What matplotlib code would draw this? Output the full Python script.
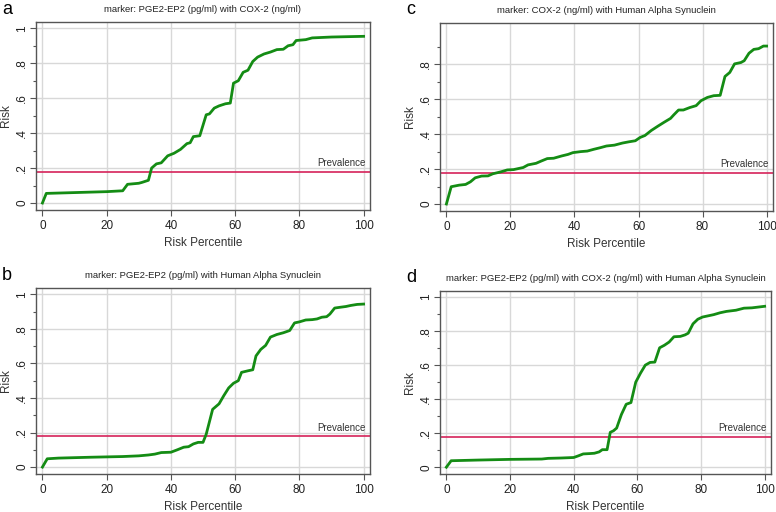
import matplotlib
matplotlib.use("Agg")
import matplotlib.pyplot as plt
import numpy as np

plt.rcParams['font.family'] = ['Liberation Sans', 'DejaVu Sans']

# données (percentile, risque)
a_x = [0, 1.2, 20, 25, 26.5, 30, 31, 33, 34, 35.5, 37, 39, 41, 43, 45, 46, 47, 49, 51, 52, 53.5, 55,
       57, 58.5, 59.5, 61, 62.5, 64, 65.5, 67, 69, 71, 73, 75, 76.5, 78, 79, 82, 84, 90, 100]
a_y = [0, 0.055, 0.065, 0.07, 0.107, 0.113, 0.118, 0.13, 0.2, 0.224, 0.23, 0.27, 0.285, 0.307, 0.34,
       0.345, 0.38, 0.385, 0.505, 0.51, 0.543, 0.556, 0.568, 0.572, 0.686, 0.70, 0.748, 0.76, 0.81,
       0.835, 0.853, 0.864, 0.878, 0.88, 0.90, 0.906, 0.93, 0.935, 0.945, 0.95, 0.954]

b_x = [0, 1.5, 5, 15, 25, 30, 33, 35, 37, 40, 42, 44, 45.5, 47, 48.5, 50, 51, 53, 55, 56.5, 58, 59.5,
       61, 62, 64, 65.5, 66.5, 68, 69.5, 71, 73, 75, 77, 78.5, 80, 82, 84, 85.5, 87, 88.5, 89.5, 91,
       92.5, 94.5, 96, 98, 100]
b_y = [0, 0.048, 0.052, 0.057, 0.061, 0.065, 0.07, 0.075, 0.084, 0.086, 0.1, 0.115, 0.118, 0.134,
       0.143, 0.143, 0.19, 0.334, 0.366, 0.414, 0.458, 0.485, 0.5, 0.548, 0.557, 0.563, 0.643, 0.681,
       0.704, 0.752, 0.767, 0.777, 0.79, 0.834, 0.84, 0.851, 0.853, 0.857, 0.867, 0.87, 0.885, 0.92,
       0.924, 0.929, 0.935, 0.941, 0.943]

c_x = [0, 1.5, 4, 6, 7.5, 9, 11, 13, 14.5, 17, 19, 21, 24, 25.5, 28, 29.5, 31.5, 33.5, 36, 38, 39.5,
       42, 44, 46, 48, 50, 52.5, 55, 57, 59, 60.5, 62, 64, 66, 68, 70, 71, 72.5, 74, 76, 78, 79.5,
       81.5, 83.5, 85.5, 87, 88.5, 90, 92, 93, 94.5, 96, 97.5, 99, 100]
c_y = [0, 0.099, 0.108, 0.112, 0.127, 0.15, 0.16, 0.161, 0.173, 0.184, 0.195, 0.197, 0.209, 0.224,
       0.233, 0.245, 0.26, 0.262, 0.275, 0.284, 0.294, 0.3, 0.303, 0.313, 0.322, 0.332, 0.337, 0.349,
       0.356, 0.362, 0.381, 0.392, 0.421, 0.445, 0.468, 0.49, 0.51, 0.538, 0.538, 0.552, 0.563, 0.591,
       0.61, 0.62, 0.622, 0.73, 0.753, 0.802, 0.81, 0.82, 0.863, 0.885, 0.889, 0.904, 0.904]

d_x = [0, 1.5, 10, 20, 30, 32, 36, 40, 41.5, 43, 45, 46.5, 48, 49, 50.5, 51.5, 52.5, 53.5, 55, 56.5,
       58, 59.5, 61, 62.5, 64, 65.5, 67, 68.5, 70, 71.5, 73.5, 75, 76, 77.5, 79, 80.5, 82, 84, 86, 88,
       91, 93.5, 96, 100]
d_y = [0, 0.038, 0.042, 0.046, 0.048, 0.052, 0.054, 0.057, 0.067, 0.078, 0.08, 0.082, 0.09, 0.103,
       0.103, 0.205, 0.214, 0.23, 0.31, 0.37, 0.38, 0.5, 0.553, 0.6, 0.616, 0.618, 0.702, 0.717, 0.736,
       0.767, 0.769, 0.778, 0.788, 0.843, 0.87, 0.883, 0.889, 0.897, 0.908, 0.916, 0.923, 0.935,
       0.937, 0.946]

prevalence = 0.18

titres = {
    "a": "marker: PGE2-EP2 (pg/ml) with COX-2 (ng/ml)",
    "b": "marker: PGE2-EP2 (pg/ml) with Human Alpha Synuclein",
    "c": "marker: COX-2 (ng/ml) with Human Alpha Synuclein",
    "d": "marker: PGE2-EP2 (pg/ml) with COX-2 (ng/ml) with Human Alpha Synuclein",
}

W, H = 776, 512
fig = plt.figure(figsize=(W / 100, H / 100), dpi=100)

# position des axes en pixels (gauche, haut, droite, bas)
boites = {
    "a": (36, 22, 370, 210),
    "c": (440, 23, 773, 211),
    "b": (36, 288, 370, 474),
    "d": (440, 291, 771, 474),
}
donnees = {"a": (a_x, a_y), "b": (b_x, b_y), "c": (c_x, c_y), "d": (d_x, d_y)}

gris = "#555555"
for lettre, (g, h, d, b) in boites.items():
    ax = fig.add_axes([g / W, 1 - b / H, (d - g) / W, (b - h) / H])
    x, y = donnees[lettre]
    ax.set_xlim(-2, 102)
    ax.set_ylim(-0.04, 1.036)
    ax.grid(True, color="#d8d8d8", linewidth=1)
    ax.set_axisbelow(True)
    ax.axhline(prevalence, color="#d6235a", linewidth=1.2, zorder=2)
    ax.plot(x, y, color="#148c14", linewidth=2, zorder=3)
    ax.text(100.5, prevalence + 0.02, "Prevalence", ha="right", va="bottom", fontsize=7, color="#333333")

    ax.set_xticks([0, 20, 40, 60, 80, 100])
    if lettre == "c":
        yt = [0, 0.2, 0.4, 0.6, 0.8]
    else:
        yt = [0, 0.2, 0.4, 0.6, 0.8, 1]
    ax.set_yticks(yt)
    ax.set_yticklabels(["0" if v == 0 else ("1" if v == 1 else ("%.1f" % v)[1:]) for v in yt],
                       rotation=90, va="center")
    ax.set_yticks(np.arange(0.1, 1.0, 0.2), minor=True)
    ax.tick_params(axis="both", which="major", labelsize=8.5, color=gris, length=4, width=0.8,
                   labelcolor="#222222", pad=3)
    ax.tick_params(axis="y", which="major", pad=1.5)
    ax.tick_params(axis="y", which="minor", color=gris, length=2, width=0.8)
    for s in ax.spines.values():
        s.set_color(gris)
        s.set_linewidth(1)
    ax.set_xlabel("Risk Percentile", fontsize=8.5, labelpad=4, color="#333333")
    ax.set_ylabel("Risk", fontsize=8.5, labelpad=3, color="#333333")
    ax.set_title(titres[lettre], fontsize=6.8, pad=7, color="#222222")
    fig.text((g - 34) / W, 1 - (h - 13) / H, lettre, fontsize=13, va="center", ha="left")

fig.savefig("out.png", dpi=100)
